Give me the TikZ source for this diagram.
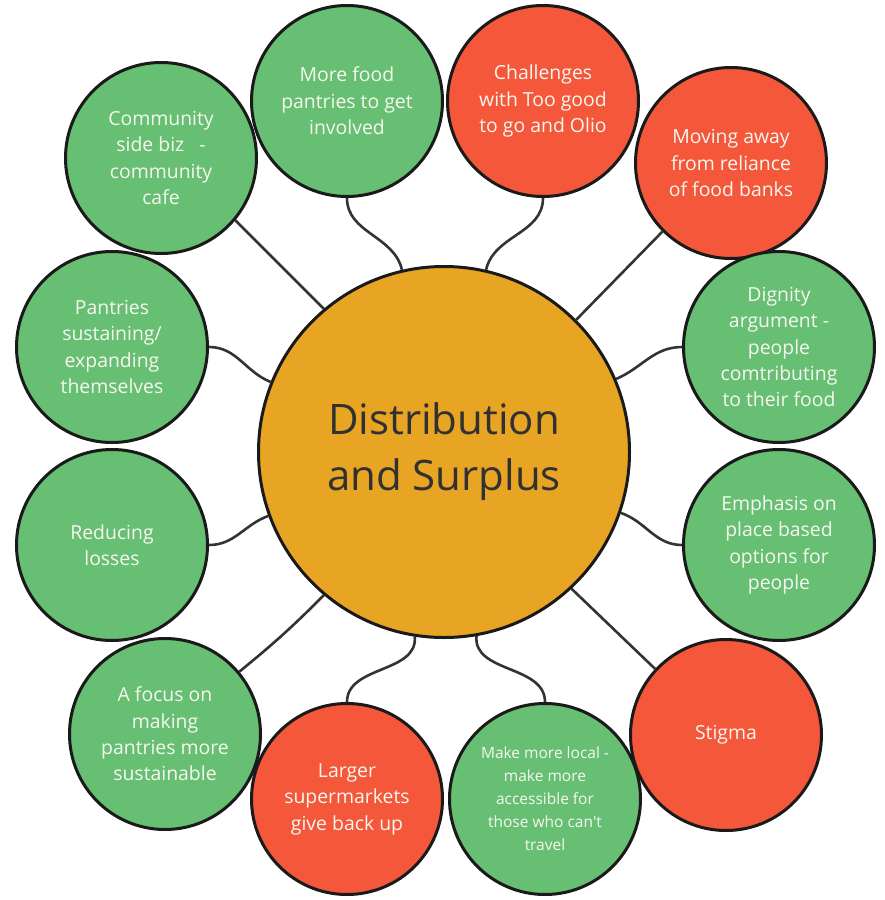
\documentclass[tikz,border=0pt]{standalone}
\usepackage{fontspec}
\setmainfont{Open Sans}
\definecolor{cgreen}{HTML}{66BF72}
\definecolor{cred}{HTML}{F4573A}
\definecolor{corange}{HTML}{E8A423}
\definecolor{cborder}{HTML}{1A1A1A}
\definecolor{cline}{HTML}{333333}
\definecolor{ctext}{HTML}{F7F7F0}
\begin{document}
\begin{tikzpicture}[x=1pt,y=-1pt,
  bubble/.style={circle,draw=cborder,line width=3pt,minimum size=191pt,inner sep=0pt,
    text=ctext,align=center,font=\fontsize{19.4}{26.4}\selectfont},
  gbub/.style={bubble,fill=cgreen},
  rbub/.style={bubble,fill=cred},
  hub/.style={circle,draw=cborder,line width=3pt,minimum size=371pt,inner sep=0pt,fill=corange,
    text=cborder!90,align=center,font=\fontsize{42}{56}\selectfont},
  link/.style={draw=cline,line width=2.6pt}]
\useasboundingbox (0,0) rectangle (885,900);
\node[hub] (c) at (444,452) {Distribution\\and Surplus};
\node[gbub] (o1) at (347,101) {More food\\pantries to get\\involved};
\node[rbub] (o2) at (543,101) {Challenges\\with Too good\\to go and Olio};
\node[rbub] (o3) at (731,163) {Moving away\\from reliance\\of food banks};
\node[gbub] (o4) at (779,347) {Dignity\\argument -\\people\\comtributing\\to their food};
\node[gbub] (o5) at (779,545) {Emphasis on\\place based\\options for\\people};
\node[rbub] (o6) at (726,735) {Stigma};
\node[gbub,font=\fontsize{15.5}{23}\selectfont] (o7) at (545,799) {Make more local -\\make more\\accessible for\\those who can\textquotesingle t\\travel};
\node[rbub] (o8) at (347,799) {Larger\\supermarkets\\give back up};
\node[gbub] (o9) at (165,734) {A focus on\\making\\pantries more\\sustainable};
\node[gbub] (o10) at (112,545) {Reducing\\losses};
\node[gbub] (o11) at (112,347) {Pantries\\sustaining/\\expanding\\themselves};
\node[gbub] (o12) at (161,158) {Community\\side biz~~~-\\community\\cafe};
\path[link] (o1.south) to[out=-90,in=103] (c.103);
\path[link] (o2.south) to[out=-90,in=77] (c.77);
\path[link] (c.45) -- (o3.225);
\path[link] (o4.west) to[out=180,in=23] (c.23);
\path[link] (o5.west) to[out=180,in=-19] (c.-19);
\path[link] (c.-47) -- (o6.137);
\path[link] (c.-80) to[out=-95,in=90] (o7.north);
\path[link] (c.-99) to[out=-85,in=90] (o8.north);
\path[link] (c.-130) to[bend left=3] (o9.40);
\path[link] (o10.east) to[out=0,in=200] (c.200);
\path[link] (o11.east) to[out=0,in=158] (c.158);
\path[link] (c.130) -- (o12.-40);
\end{tikzpicture}
\end{document}
